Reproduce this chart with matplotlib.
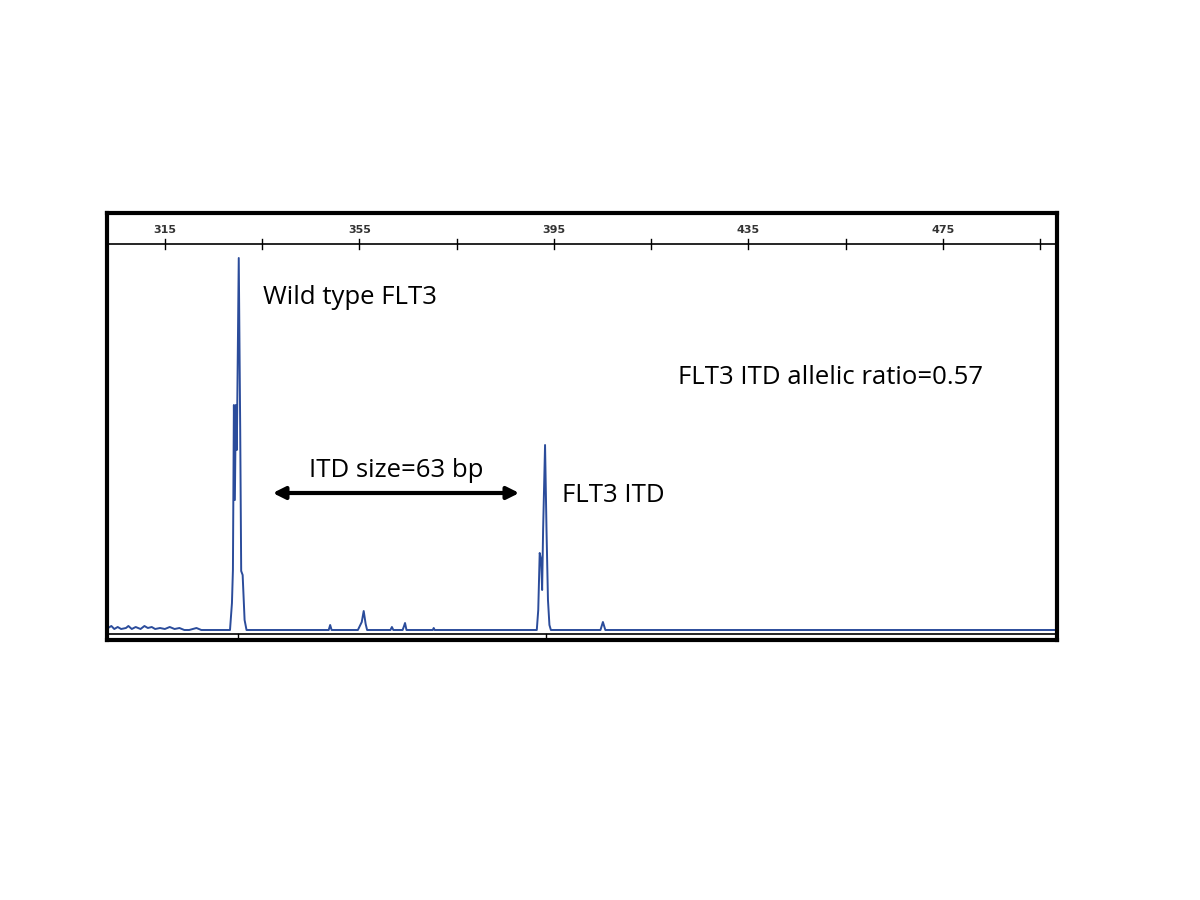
import matplotlib
matplotlib.use("Agg")
import matplotlib.pyplot as plt

trace_bp = [303.3,304,304.6,305.3,306,307,307.5,308.2,309,310,310.8,311.5,312.3,313,314,315,316,317,318,319,320,321.5,322.5,
            328.4,328.8,329.0,329.2,329.4,329.6,329.8,330.2,330.5,330.7,331.0,331.4,331.8,
            348.7,349.0,349.3,354.7,355.1,355.5,355.9,356.3,356.6,361.4,361.7,362.0,363.9,364.2,364.4,364.7,370.1,370.3,370.5,
            391.5,391.8,392.1,392.4,392.6,392.8,393.2,393.5,393.8,394.1,394.4,404.6,405.1,405.6,498.5]
trace_h = [2,4,1,3,1,2,4,1,3,1,4,2,3,1,2,1,3,1,2,0,0,2,0,
           0,27,60,225,130,225,180,372,200,59,55,10,0,
           0,5,0,0,4,8,19,6,0,0,3,0,0,4,7,0,0,2,0,
           0,20,77,70,40,100,185,100,30,5,0,0,8,0,0]
major_ticks = [315, 355, 395, 435, 475]
minor_ticks = [335, 375, 415, 455, 495]
peak_marks = [330.1, 393.4]

fig = plt.figure(figsize=(12, 9), dpi=100)
ax = fig.add_axes([107/1200, 260/900, 950/1200, 427/900])
ax.set_xlim(303.1, 498.5)
ax.set_ylim(-10, 417)
blue = '#2b4c9b'
ax.plot(trace_bp, trace_h, color=blue, lw=1.4)

# ruler
ax.axhline(386, color='black', lw=1.2)
for t in major_ticks + minor_ticks:
    ax.plot([t, t], [381, 391], color='black', lw=1)
for t in major_ticks:
    ax.text(t, 395, str(t), ha='center', va='bottom', fontsize=8, color='#333333', fontweight='bold')
# bottom line
ax.axhline(-4, color='black', lw=1.2)
for t in peak_marks:
    ax.plot([t, t], [-4, -9], color='black', lw=1)

for s in ax.spines.values():
    s.set_linewidth(3)
ax.set_xticks([]); ax.set_yticks([])

fnt = dict(family=['Open Sans', 'DejaVu Sans'], fontsize=18.5, color='black')
fig.text(263/1200, 1-297/900, 'Wild type FLT3', ha='left', va='center', **fnt)
fig.text(678/1200, 1-378/900, 'FLT3 ITD allelic ratio=0.57', ha='left', va='center', **fnt)
fig.text(396/1200, 1-470/900, 'ITD size=63 bp', ha='center', va='center', **fnt)
fig.text(562/1200, 1-495/900, 'FLT3 ITD', ha='left', va='center', **fnt)
fig.patches.append(matplotlib.patches.FancyArrowPatch((270/1200, 1-493/900), (522/1200, 1-493/900),
    transform=fig.transFigure, arrowstyle='<|-|>', mutation_scale=18, lw=3, color='black'))

fig.savefig('out.png', dpi=100)
